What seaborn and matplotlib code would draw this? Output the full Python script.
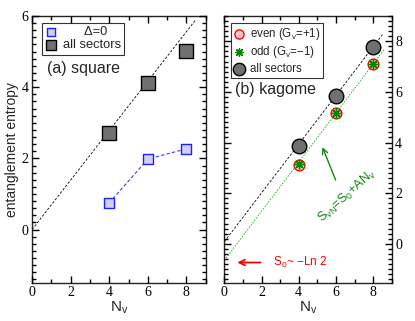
import matplotlib
matplotlib.use("Agg")
import matplotlib.pyplot as plt
import seaborn as sns
import numpy as np
from matplotlib.ticker import MultipleLocator

# ---- data ----
Nv = [4, 6, 8]
sq_delta0 = [0.75, 1.98, 2.27]
sq_all = [2.71, 4.12, 5.01]
kag_even = [3.13, 5.15, 7.10]
kag_odd = [3.15, 5.15, 7.10]
kag_all = [3.85, 5.83, 7.78]

# linear fits S = S0 + A*Nv
sq_fit = (0.0, 0.695, 8.45)        # intercept, slope, x end
kag_all_fit = (0.08, 0.963, 8.5)
kag_sec_fit = (-0.66, 0.97, 8.6)

sns.set_style("ticks")
plt.rcParams["font.family"] = ["Liberation Sans", "DejaVu Sans"]
plt.rcParams["mathtext.fontset"] = "custom"
plt.rcParams["mathtext.rm"] = "Liberation Sans"
plt.rcParams["mathtext.it"] = "Liberation Sans:italic"
plt.rcParams["mathtext.default"] = "rm"
plt.rcParams["axes.axisbelow"] = False

fig = plt.figure(figsize=(4.15, 3.21), dpi=100)
ax1 = fig.add_axes([32/415, 1-283/321, (205.7-32)/415, (283-16)/321])
ax2 = fig.add_axes([224.3/415, 1-283/321, (391.7-224.3)/415, (283-16)/321])

def style(ax, right_labels=False, tc="black"):
    ax.set_xlim(0, 9)
    ax.xaxis.set_major_locator(MultipleLocator(2))
    ax.xaxis.set_minor_locator(MultipleLocator(1))
    ax.yaxis.set_major_locator(MultipleLocator(2))
    ax.yaxis.set_minor_locator(MultipleLocator(0.2))
    ax.tick_params(which="both", direction="in", top=True, right=True, left=True, bottom=True,
                   labelfontfamily="Liberation Serif", labelsize=10, color=tc,
                   labelcolor="black", pad=2.5)
    ax.tick_params(which="major", length=5, width=1.0)
    ax.tick_params(which="minor", length=2.6, width=1.0)
    if right_labels:
        ax.tick_params(axis="y", which="both", labelleft=False, labelright=True)
    for s in ax.spines.values():
        s.set_linewidth(1.0)
        s.set_color("#222222")
    ax.set_xlabel("N$_{\\rm v}$", fontsize=11, labelpad=0)

# ---- (a) square ----
ax = ax1
b, a, xe = sq_fit
xs = np.array([0, xe])
ax.plot(xs, b + a*xs, color="black", lw=0.6, ls=(0, (3, 2)), zorder=1)
sns.lineplot(x=Nv, y=sq_delta0, ax=ax, color="#3a3aff", lw=0.8, ls=(0, (3, 2)),
             legend=False, zorder=2)
sns.scatterplot(x=Nv, y=sq_delta0, ax=ax, marker="s", s=50, color="#cfcff7",
                edgecolor="#2020ff", linewidth=1.0, label="      \u0394=0", zorder=3)
sns.scatterplot(x=Nv, y=sq_all, ax=ax, marker="s", s=105, color="#707070",
                edgecolor="black", linewidth=1.0, label="all sectors", zorder=3)
ax.set_ylim(-1.5, 6)
style(ax, tc="black")
ax.set_ylabel("entanglement entropy", fontsize=10, labelpad=2)
ax.text(0.76, 4.53, "(a) square", fontsize=11.5, va="center", ha="left")
leg = ax.legend(loc="upper left", bbox_to_anchor=(0.056, 0.975), fontsize=9.3,
                frameon=True, fancybox=False, borderpad=0.25, labelspacing=0.1,
                handletextpad=0.4, handlelength=1.0, borderaxespad=0, markerscale=0.75)
leg.get_frame().set_edgecolor("black")
leg.get_frame().set_linewidth(0.8)

# ---- (b) kagome ----
ax = ax2
for (b, a, xe), c, dash in [(kag_all_fit, "black", (0, (3, 2))),
                            (kag_sec_fit, "#22aa22", (0, (2, 1.5)))]:
    xs = np.array([0, xe])
    ax.plot(xs, b + a*xs, color=c, lw=0.6, ls=dash, zorder=1)
sns.scatterplot(x=Nv, y=kag_even, ax=ax, marker="o", s=60, color="#ffc8c8",
                edgecolor="red", linewidth=1.0, label="even (G$_{\\rm v}$=+1)", zorder=3)
sns.scatterplot(x=Nv, y=kag_odd, ax=ax, marker=(8, 2, 0), s=40, color="#008800",
                linewidth=1.0, label="odd (G$_{\\rm v}$=\u22121)", zorder=4)
sns.scatterplot(x=Nv, y=kag_all, ax=ax, marker="o", s=110, color="#707070",
                edgecolor="black", linewidth=1.0, label="all sectors", zorder=3)
ax.set_ylim(-1.55, 9)
style(ax, right_labels=True, tc="black")
ax.set_ylabel("")
ax.text(0.58, 6.09, "(b) kagome", fontsize=11.5, va="center", ha="left")
leg = ax.legend(loc="upper left", bbox_to_anchor=(0.038, 0.975), fontsize=8.3,
                frameon=True, fancybox=False, borderpad=0.25, labelspacing=0.22,
                handletextpad=0.4, handlelength=1.0, borderaxespad=0, markerscale=0.85)
leg.get_frame().set_edgecolor("black")
leg.get_frame().set_linewidth(0.8)

ax.annotate("", xy=(0.55, -0.74), xytext=(2.1, -0.74),
            arrowprops=dict(arrowstyle="->", color="red", lw=1.3))
ax.text(2.6, -0.72, "S$_0$~ \u2212Ln 2", color="red", fontsize=8.6, va="center", ha="left")
ax.annotate("", xy=(5.22, 3.92), xytext=(6.04, 2.42),
            arrowprops=dict(arrowstyle="->", color="#118811", lw=1.0))
ax.text(6.58, 1.9, "S$_{\\rm vN}$=S$_0$+AN$_{\\rm v}$", color="#118811", fontsize=9.2,
        rotation=42, rotation_mode="anchor", va="center", ha="center")

fig.savefig("out.png", dpi=100)
